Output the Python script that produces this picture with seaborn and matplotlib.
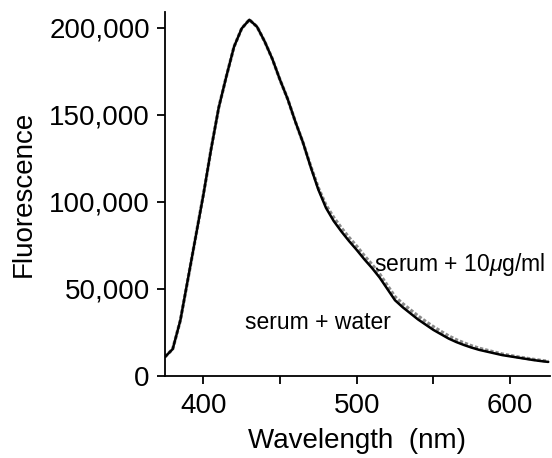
import numpy as np
import pandas as pd
import matplotlib
matplotlib.use("Agg")
import matplotlib.pyplot as plt
import seaborn as sns

wavelength = [375, 380, 385, 390, 395, 400, 405, 410, 415, 420, 425, 430, 435, 440, 445,
              450, 455, 460, 465, 470, 475, 480, 485, 490, 495, 500, 505, 510, 515, 520,
              525, 530, 535, 540, 545, 550, 555, 560, 565, 570, 575, 580, 585, 590, 595,
              600, 605, 610, 615, 620, 625]

serum_water = [11000, 15500, 32000, 56000, 80000, 104000, 130000, 154000, 172000, 189000,
               199500, 204500, 200500, 192000, 182000, 170000, 159000, 146000, 134000, 120000,
               107000, 96500, 89000, 83000, 77500, 72400, 67000, 62000, 56500, 50000,
               43500, 39500, 36000, 32500, 29500, 26500, 24000, 21500, 19500, 17800,
               16300, 15000, 14000, 13000, 12000, 11300, 10600, 9900, 9200, 8600, 8100]

serum_10ug = [11000, 15500, 32000, 56000, 80000, 104000, 130000, 154000, 172000, 189000,
              199500, 204500, 200500, 192000, 182000, 170000, 159000, 146000, 134000, 120500,
              108000, 98000, 91000, 85000, 79500, 74500, 69000, 64000, 58500, 52000,
              45500, 41500, 38000, 34500, 31300, 28300, 25600, 23000, 20800, 19000,
              17300, 15900, 14800, 13700, 12600, 11800, 11000, 10300, 9600, 9000, 8400]

series_names = ["serum + 10µg/ml", "serum + water"]
x_ticks = [400, 450, 500, 550, 600]
x_tick_labels = ["400", "", "500", "", "600"]
y_ticks = [0, 50000, 100000, 150000, 200000]
y_tick_labels = ["0", "50,000", "100,000", "150,000", "200,000"]

df = pd.concat([
    pd.DataFrame({"Wavelength": wavelength, "Fluorescence": serum_10ug, "sample": series_names[0]}),
    pd.DataFrame({"Wavelength": wavelength, "Fluorescence": serum_water, "sample": series_names[1]}),
])

sns.set_theme(style="ticks")
plt.rcParams["font.family"] = ["Liberation Sans", "DejaVu Sans"]
plt.rcParams["mathtext.fontset"] = "custom"
plt.rcParams["mathtext.it"] = "Liberation Sans:italic"
plt.rcParams["mathtext.rm"] = "Liberation Sans"

fig = plt.figure(figsize=(5.52, 4.58), dpi=100)
ax = fig.add_axes([0.299, 0.179, 0.697, 0.795])

sns.lineplot(data=df, x="Wavelength", y="Fluorescence", hue="sample", style="sample",
             palette={series_names[0]: "#8a8a8a", series_names[1]: "black"},
             dashes={series_names[0]: (1, 0.6), series_names[1]: ""},
             linewidth=1.8, legend=False, ax=ax, estimator=None)
for ln in ax.get_lines():
    ln.set_solid_joinstyle("round")
    if matplotlib.colors.to_hex(ln.get_color()) == "#8a8a8a":
        ln.set_linewidth(2.4)
        ln.set_zorder(1)
    else:
        ln.set_zorder(2)

ax.set_xlim(375, 626)
ax.set_ylim(0, 209000)
ax.set_xticks(x_ticks)
ax.set_xticklabels(x_tick_labels)
ax.set_yticks(y_ticks)
ax.set_yticklabels(y_tick_labels)

sns.despine(ax=ax)
for s in ["left", "bottom"]:
    ax.spines[s].set_linewidth(1.3)
    ax.spines[s].set_color("black")
ax.tick_params(axis="both", direction="out", length=6, width=1.3, color="black",
               labelsize=20, labelcolor="black")
ax.tick_params(axis="y", pad=5)
ax.tick_params(axis="x", pad=6)

ax.set_xlabel("Wavelength  (nm)", fontsize=20, color="black", labelpad=7)
ax.set_ylabel("Fluorescence", fontsize=20, color="black", labelpad=9)

ann_font = dict(fontsize=16.5, ha="left", va="center", color="black")
ax.text(427, 30500, "serum + water", **ann_font)
ax.text(511, 63800, r"serum + 10$\mathit{\mu}$g/ml", **ann_font)

fig.savefig("out.png", dpi=100, facecolor="white")
